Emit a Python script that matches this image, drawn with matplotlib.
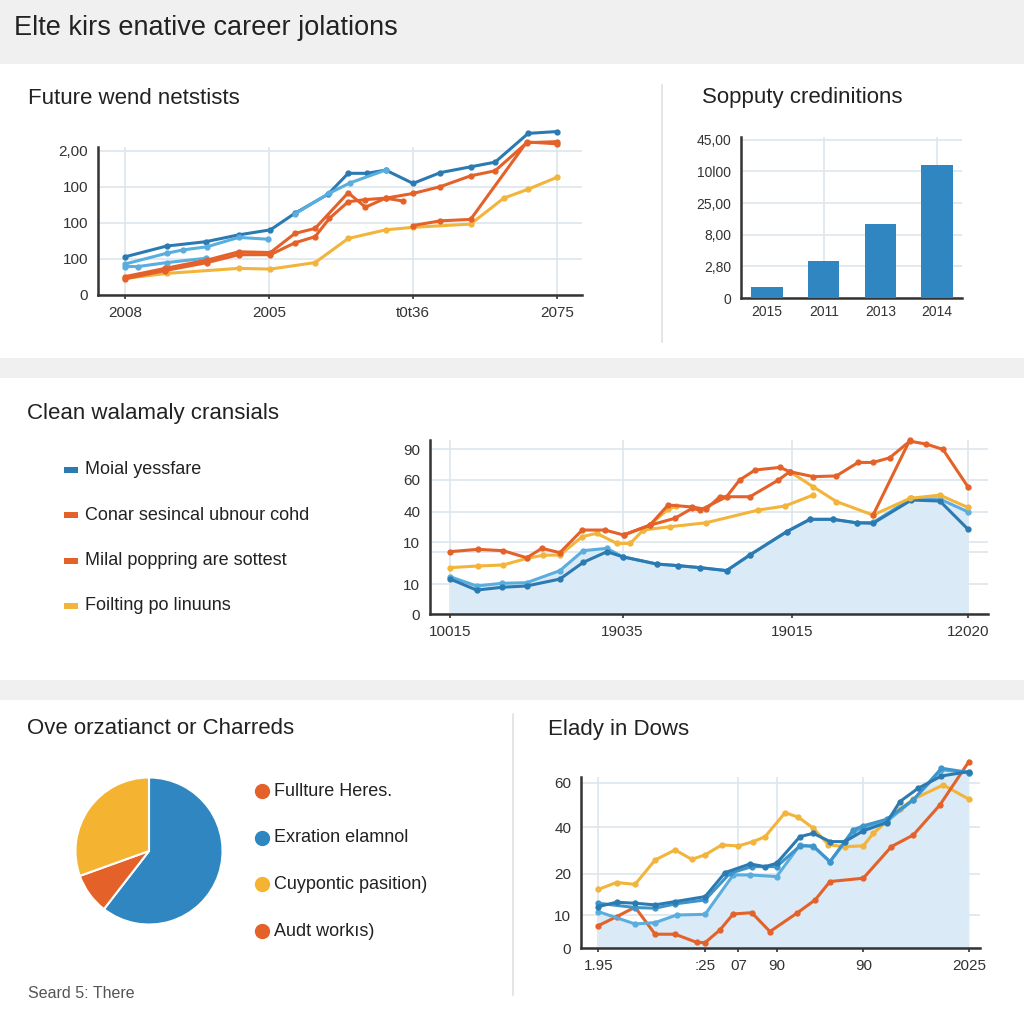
import matplotlib
matplotlib.use("Agg")
import matplotlib.pyplot as plt
from matplotlib.patches import Rectangle
from matplotlib.lines import Line2D

plt.rcParams['font.family'] = ['Liberation Sans', 'DejaVu Sans']

# ---- data -----------------------------------------------------------------
main_title = "Elte kirs enative career jolations"

# chart 1: "Future wend netstists"
c1_title = "Future wend netstists"
c1_xticks = ["2008", "2005", "t0t36", "2075"]
c1_yticks = ["0", "100", "100", "100", "2,00"]
c1_dark_x = [0, 0.29, 0.56, 0.79, 1.01, 1.18, 1.41, 1.55, 1.68, 1.81, 2.0, 2.19, 2.40, 2.57, 2.80, 3.0]
c1_dark_y = [1.06, 1.36, 1.48, 1.67, 1.81, 2.27, 2.80, 3.38, 3.38, 3.47, 3.10, 3.40, 3.56, 3.69, 4.49, 4.54]
c1_light_x = [0, 0.29, 0.40, 0.57, 0.79, 0.99]
c1_light_y = [0.86, 1.16, 1.25, 1.34, 1.60, 1.55]
c1_light2_x = [0, 0.09, 0.29, 0.56]
c1_light2_y = [0.79, 0.79, 0.90, 1.02]
c1_light3_x = [1.18, 1.42, 1.56, 1.81]
c1_light3_y = [2.25, 2.83, 3.11, 3.47]
c1_or_x = [0, 0.28, 0.57, 0.79, 1.01, 1.18, 1.32, 1.55, 1.67, 1.81, 2.0, 2.19, 2.40, 2.57, 2.79, 3.0]
c1_or_y = [0.51, 0.74, 0.97, 1.20, 1.18, 1.71, 1.85, 2.84, 2.44, 2.69, 2.82, 3.01, 3.31, 3.45, 4.23, 4.26]
c1_or2_x = [0, 0.28, 0.57, 0.79, 1.01, 1.18, 1.32, 1.42, 1.55, 1.67, 1.81, 1.93]
c1_or2_y = [0.45, 0.68, 0.90, 1.12, 1.12, 1.45, 1.62, 2.13, 2.59, 2.65, 2.69, 2.61]
c1_or3_x = [2.0, 2.19, 2.40, 2.79, 3.0]
c1_or3_y = [1.93, 2.06, 2.10, 4.25, 4.20]
c1_yel_x = [0, 0.29, 0.79, 1.01, 1.32, 1.55, 1.81, 2.0, 2.40, 2.63, 2.80, 3.0]
c1_yel_y = [0.46, 0.60, 0.74, 0.72, 0.90, 1.57, 1.81, 1.88, 1.97, 2.69, 2.94, 3.27]

# chart 2: "Sopputy credinitions"
c2_title = "Sopputy credinitions"
c2_cats = ["2015", "2011", "2013", "2014"]
c2_vals = [0.35, 1.17, 2.34, 4.21]
c2_yticks = ["0", "2,80", "8,00", "25,00", "10l00", "45,00"]

# chart 3: "Clean walamaly cransials"
c3_title = "Clean walamaly cransials"
c3_legend = ["Moial yessfare", "Conar sesincal ubnour cohd",
             "Milal poppring are sottest", "Foilting po linuuns"]
c3_xticks = ["10015", "19035", "19015", "12020"]
c3_xpos = [0, 33.3, 66, 100]
c3_yticks = ["0", "10", "10", "40", "60", "90"]
c3_ypos = [0, 18, 43.5, 62, 81.3, 100]
c3_x = [0, 5.1, 10.0, 14.8, 21.2, 25.7, 30.3, 33.3, 39.9, 44.1, 48.3,
        53.4, 57.9, 65.0, 69.5, 74.0, 78.5, 81.7, 89.1, 94.6, 100]
c3_dark = [21.2, 14.5, 16.2, 17.0, 21.2, 31.3, 37.8, 34.7, 30.3, 29.3, 28.1,
           26.3, 35.8, 49.9, 57.4, 57.4, 55.3, 55.0, 69.1, 68.5, 51.5]
c3_light = [22.6, 17.0, 18.6, 19.0, 26.3, 38.4, 39.8, 34.7, 30.3, 29.3, 28.1,
            26.3, 35.8, 49.9, 57.4, 57.4, 55.3, 55.5, 70.1, 69.7, 62.0]
c3_or_x = [0, 5.3, 10.2, 14.8, 17.7, 21.2, 25.5, 29.9, 33.5, 38.6, 43.4, 46.7, 48.3,
           53.4, 55.9, 58.9, 63.7, 65.6, 70.1, 74.6, 78.8, 81.7, 84.9, 88.8, 92.0, 95.2, 100]
c3_or_y = [37.8, 39.2, 38.4, 34.1, 39.8, 37.2, 50.9, 50.9, 47.9, 53.9, 58.0, 64.0, 63.0,
           71.1, 81.2, 87.3, 88.9, 86.3, 83.3, 83.7, 91.9, 91.9, 94.7, 104.8, 103.0, 99.8, 77.2]
c3_or2_x = [33.5, 38.6, 42.1, 46.7, 49.4, 52.1, 57.9, 63.4, 65.6]
c3_or2_y = [47.9, 53.9, 66.1, 64.9, 63.5, 71.1, 71.1, 81.2, 86.3]
c3_or3_x = [81.7, 88.8]
c3_or3_y = [60.0, 105.5]
c3_yel_x = [0, 5.3, 10.2, 14.8, 17.9, 21.2, 25.5, 28.3, 32.2, 34.8, 37.3,
            42.4, 49.4, 59.5, 64.7, 70.1]
c3_yel_y = [28.1, 29.1, 29.7, 33.7, 35.6, 35.8, 46.9, 48.9, 42.8, 42.8, 50.9,
            52.9, 55.3, 63.0, 65.5, 72.1]
c3_yel2_x = [37.3, 42.1, 43.7]
c3_yel2_y = [50.9, 63.4, 65.5]
c3_yel3_x = [65.6, 70.1, 74.6, 81.7, 88.8, 94.6, 100]
c3_yel3_y = [86.3, 77.2, 68.2, 60.0, 70.1, 72.1, 64.6]

# chart 4: pie "Ove orzatianct or Charreds"
c4_title = "Ove orzatianct or Charreds"
c4_vals = [60.5, 9.0, 30.5]
c4_legend = ["Fullture Heres.", "Exration elamnol", "Cuypontic pasition)", "Audt workıs)"]
footnote = "Seard 5: There"

# chart 5: "Elady in Dows"
c5_title = "Elady in Dows"
c5_xticks = ["1.95", ":25", "07", "90", "90", "2025"]
c5_xpos = [0, 28.8, 37.8, 48.1, 71.5, 100]
c5_yticks = ["0", "10", "20", "40", "60"]
c5_ypos = [0, 20.1, 44.9, 73.2, 100]
c5_yel_x = [0, 4.9, 9.9, 15.3, 20.7, 25.2, 28.8, 33.3, 37.8, 41.8, 45.0, 50.4, 54.0,
            58.0, 62.1, 66.5, 71.5, 74.2, 77.8, 81.4, 85.0, 93.1, 100]
c5_yel_y = [35.6, 39.7, 38.6, 53.3, 59.4, 53.7, 56.4, 62.4, 61.8, 64.4, 67.4, 81.9, 79.1,
            72.5, 62.4, 61.4, 61.8, 69.4, 76.5, 84.0, 90.0, 98.6, 90.0]
c5_or_x = [0, 4.9, 9.9, 15.3, 20.7, 26.5, 28.8, 32.8, 36.4, 41.4, 46.3, 53.5, 58.5,
           62.5, 71.5, 79.1, 85.0, 92.2, 100]
c5_or_y = [13.7, 19.1, 24.8, 8.5, 8.5, 3.6, 3.4, 11.1, 20.7, 21.5, 10.1, 21.1, 29.2,
           40.3, 42.3, 61.4, 68.4, 86.6, 112.7]
c5_dark_x = [0, 4.9, 9.9, 15.3, 20.7, 28.8, 34.2, 40.9, 45.0, 48.1, 54.4, 58.0, 62.5,
             66.5, 71.5, 77.8, 81.4, 86.3, 92.6, 100]
c5_dark_y = [25.2, 27.8, 27.2, 26.2, 28.2, 31.2, 45.7, 50.9, 49.3, 51.3, 67.4, 69.4, 64.4,
             64.4, 70.9, 75.9, 88.6, 96.6, 104.0, 106.7]
c5_mid_x = [0, 9.9, 15.3, 20.7, 28.8, 35.5, 41.4, 48.1, 54.4, 58.0, 62.5, 68.8, 71.5,
            77.8, 85.0, 92.6, 100]
c5_mid_y = [27.2, 24.6, 24.2, 26.8, 29.2, 45.3, 49.3, 49.3, 61.8, 61.8, 52.3, 71.5, 73.9,
            77.9, 89.6, 108.7, 106.1]
c5_light_x = [0, 9.9, 15.3, 21.1, 28.8, 36.4, 40.9, 48.1, 54.4, 58.0, 62.5, 68.8,
              77.8, 85.0, 92.6, 100]
c5_light_y = [22.1, 14.7, 15.5, 20.1, 20.5, 44.3, 44.3, 43.3, 62.4, 61.4, 52.3, 70.5,
              76.5, 89.6, 107.7, 106.1]

# ---- style ----------------------------------------------------------------
BLUE = '#2b7bb2'
LBLUE = '#5aaedf'
ORANGE = '#e4622a'
YELLOW = '#f2b43a'
FILL = '#daeaf6'
GRID = '#dde6ec'
AXIS = '#333333'
TXT = '#222222'

fig = plt.figure(figsize=(10.24, 10.24), dpi=100)
fig.patch.set_facecolor('#f0f0f0')

bg = fig.add_axes([0, 0, 1, 1], zorder=-10)
bg.set_xlim(0, 1024)
bg.set_ylim(1024, 0)
bg.axis('off')
for top, bot in [(64, 358), (378, 680), (700, 1024)]:
    bg.add_patch(Rectangle((0, top), 1024, bot - top, facecolor='white', edgecolor='none'))
bg.plot([662, 662], [85, 342], color='#e0e0e0', lw=1.2)
bg.plot([513, 513], [714, 995], color='#e0e0e0', lw=1.2)


def box(l, t, r, b):
    return [l / 1024, 1 - b / 1024, (r - l) / 1024, (b - t) / 1024]


def style(ax, fs=11):
    for s in ['top', 'right']:
        ax.spines[s].set_visible(False)
    for s in ['left', 'bottom']:
        ax.spines[s].set_color(AXIS)
        ax.spines[s].set_linewidth(1.8)
    ax.tick_params(axis='both', labelsize=fs, colors='#333333', length=0, pad=7)
    ax.tick_params(axis='x', length=3, width=1.2, pad=5)
    ax.set_facecolor('none')
    ax.grid(True, color=GRID, lw=1.2)
    ax.set_axisbelow(True)


def line(ax, x, y, c, lw=2.2, ms=3.5, z=3):
    ax.plot(x, y, color=c, lw=lw, marker='o', ms=ms, clip_on=False,
            solid_joinstyle='round', zorder=z)


def title(x, y, s, fs=16):
    bg.text(x, y, s, fontsize=fs, color=TXT, va='center', ha='left')


title(14, 28, main_title, fs=19.5)

# ---- chart 1 --------------------------------------------------------------
title(28, 98, c1_title)
ax1 = fig.add_axes(box(97.6, 147.4, 581.5, 295))
style(ax1)
ax1.set_xlim(-0.19, 3.17)
ax1.set_ylim(0, 4.1)
ax1.set_xticks(range(len(c1_xticks)), c1_xticks)
ax1.set_yticks(range(len(c1_yticks)), c1_yticks)
line(ax1, c1_light2_x, c1_light2_y, LBLUE)
line(ax1, c1_yel_x, c1_yel_y, YELLOW)
line(ax1, c1_or3_x, c1_or3_y, ORANGE)
line(ax1, c1_or2_x, c1_or2_y, ORANGE)
line(ax1, c1_or_x, c1_or_y, ORANGE)
line(ax1, c1_dark_x, c1_dark_y, BLUE)
line(ax1, c1_light_x, c1_light_y, LBLUE)
line(ax1, c1_light3_x, c1_light3_y, LBLUE)

# ---- chart 2 --------------------------------------------------------------
title(702, 98, c2_title)
ax2 = fig.add_axes(box(741, 137, 962, 298))
style(ax2, fs=10)
ax2.grid(False)
ax2.set_xlim(-0.46, 3.44)
ax2.set_ylim(0, 5.09)
ax2.set_yticks(range(len(c2_yticks)), c2_yticks)
ax2.yaxis.grid(True, color=GRID, lw=1.2)
for i in (1, 3):
    ax2.axvline(i, color=GRID, lw=1.2, zorder=0)
ax2.bar(range(len(c2_cats)), c2_vals, width=0.55, color='#2f86c0', zorder=3)
ax2.set_xticks(range(len(c2_cats)), c2_cats)
ax2.tick_params(axis='x', length=0)

# ---- chart 3 --------------------------------------------------------------
title(27, 413, c3_title)
leg_colors = [BLUE, ORANGE, ORANGE, YELLOW]
for i, (lab, col) in enumerate(zip(c3_legend, leg_colors)):
    yy = 470 + i * 45.3
    bg.add_patch(Rectangle((64, yy - 3), 14, 6, facecolor=col, edgecolor='none'))
    bg.text(85, yy, lab, fontsize=13, color=TXT, va='center')

ax3 = fig.add_axes(box(430, 440, 988, 614))
style(ax3)
ax3.set_xlim(-3.9, 103.9)
ax3.set_ylim(0, 105.5)
ax3.set_xticks(c3_xpos, c3_xticks)
ax3.set_yticks(c3_ypos, c3_yticks)
ax3.axhline(37.5, color=GRID, lw=1.2, zorder=0)
ax3.fill_between(c3_x, 0, c3_light, color=FILL, lw=0, zorder=1)
line(ax3, c3_x, c3_light, LBLUE)
line(ax3, c3_x, c3_dark, BLUE)
line(ax3, c3_yel_x, c3_yel_y, YELLOW)
line(ax3, c3_yel2_x, c3_yel2_y, YELLOW)
line(ax3, c3_yel3_x, c3_yel3_y, YELLOW)
line(ax3, c3_or2_x, c3_or2_y, ORANGE)
line(ax3, c3_or3_x, c3_or3_y, ORANGE)
line(ax3, c3_or_x, c3_or_y, ORANGE)

# ---- chart 4 (pie) --------------------------------------------------------
title(27, 729, c4_title)
ax4 = fig.add_axes(box(74, 776, 224, 926))
ax4.pie(c4_vals, colors=['#2f86c0', ORANGE, '#f5b332'], startangle=90, counterclock=False,
        wedgeprops=dict(edgecolor='white', linewidth=1.5), radius=1.0)
ax4.set_xlim(-1.02, 1.02)
ax4.set_ylim(-1.02, 1.02)
pie_leg_colors = [ORANGE, '#2f86c0', '#f5b332', ORANGE]
for i, (lab, col) in enumerate(zip(c4_legend, pie_leg_colors)):
    yy = 791 + i * 46.7
    bg.add_line(Line2D([262], [yy], marker='o', ms=10, color=col, lw=0))
    bg.text(274, yy, lab, fontsize=13, color=TXT, va='center')
bg.text(28, 994, footnote, fontsize=11.5, color='#555555', va='center')

# ---- chart 5 --------------------------------------------------------------
title(548, 729, c5_title)
ax5 = fig.add_axes(box(581, 777, 980, 948.3))
style(ax5)
ax5.grid(False)
ax5.set_xlim(-4.7, 103)
ax5.set_ylim(0, 103.4)
ax5.set_xticks(c5_xpos, c5_xticks)
ax5.set_yticks(c5_ypos, c5_yticks)
ax5.yaxis.grid(True, color=GRID, lw=1.2)
for xv in (0, 37.8, 48.1, 71.5):
    ax5.axvline(xv, color=GRID, lw=1.2, zorder=0)
ax5.fill_between(c5_light_x, 0, c5_light_y, color=FILL, lw=0, zorder=1, clip_on=False)
line(ax5, c5_yel_x, c5_yel_y, YELLOW)
line(ax5, c5_or_x, c5_or_y, ORANGE)
line(ax5, c5_light_x, c5_light_y, LBLUE)
line(ax5, c5_mid_x, c5_mid_y, '#3d95cc')
line(ax5, c5_dark_x, c5_dark_y, BLUE)

fig.savefig("out.png", dpi=100)
